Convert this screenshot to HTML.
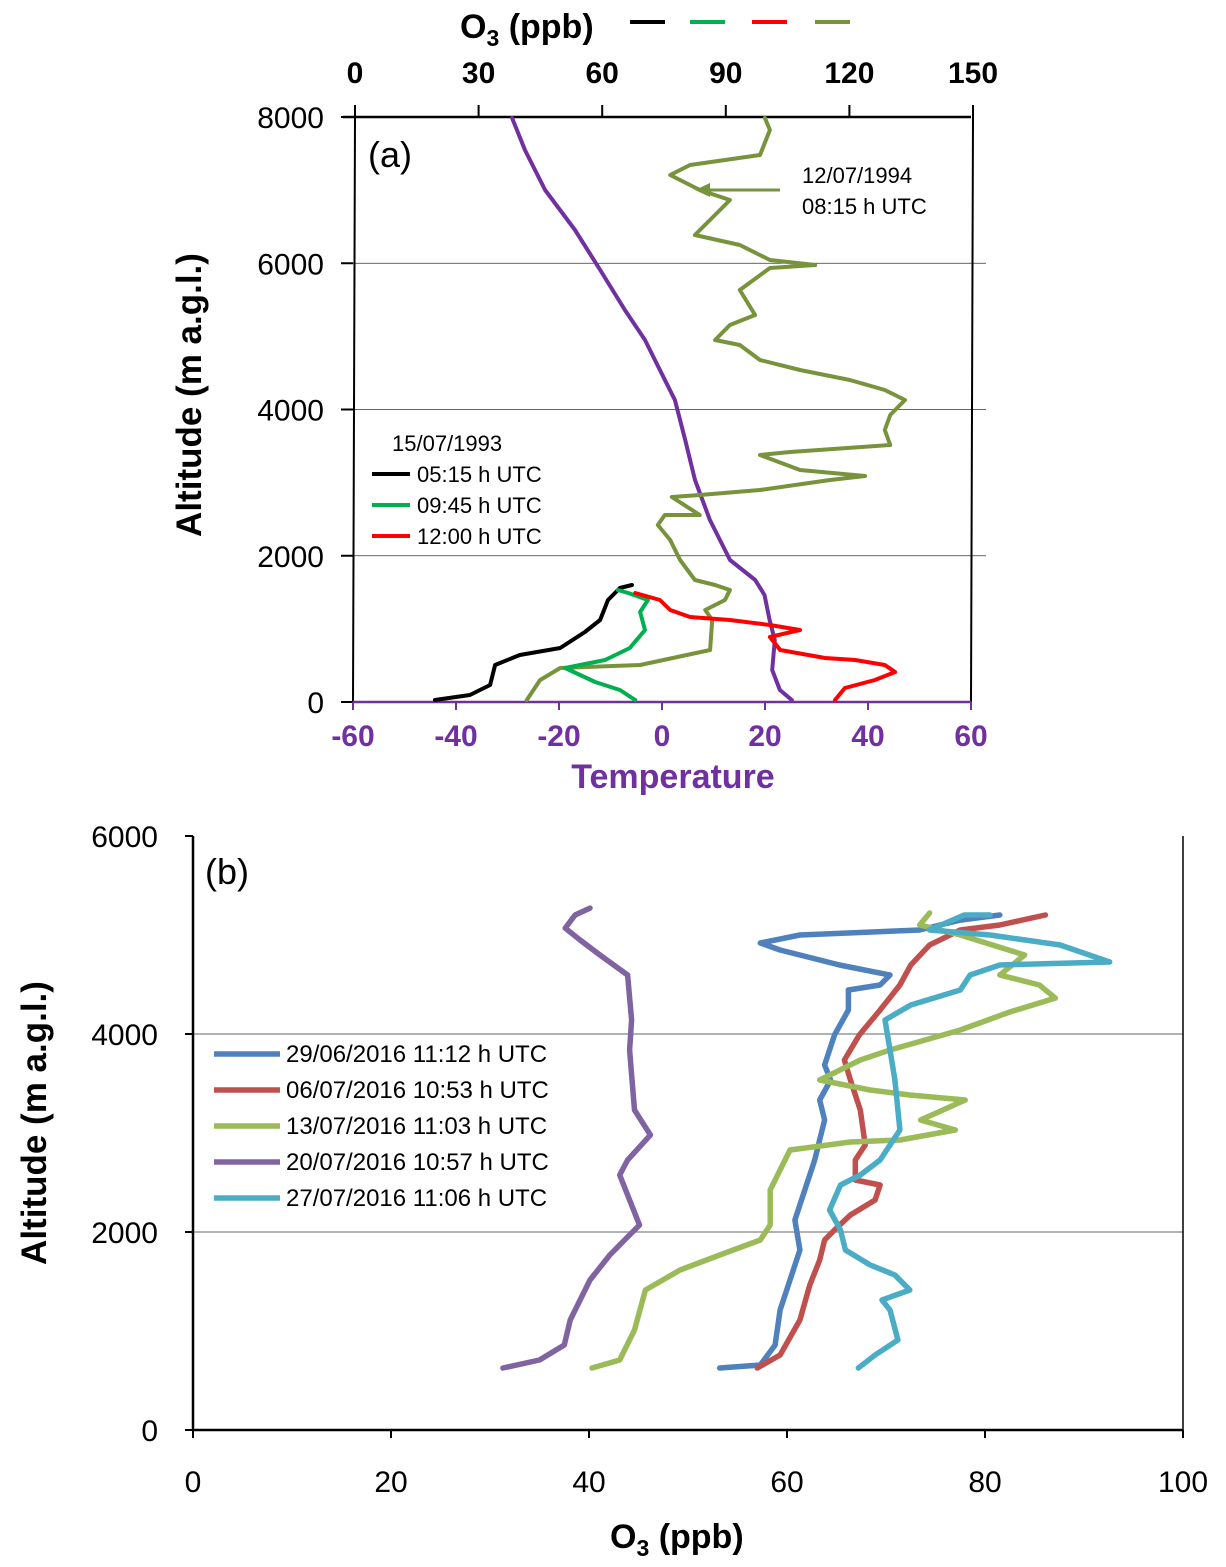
<!DOCTYPE html>
<html><head><meta charset="utf-8"><style>
body{margin:0;background:#fff}
svg text{font-family:"Liberation Sans",sans-serif}
</style></head><body>
<svg id="c" width="1226" height="1562" xmlns="http://www.w3.org/2000/svg">
<g id="a"></g>
<g id="b"></g>
</svg>
<script>
// ---- Panel (a) data ----
const aAltTicks=[0,2000,4000,6000,8000];
const aO3Ticks=[0,30,60,90,120,150];
const aTempTicks=[-60,-40,-20,0,20,40,60];
const olive1994O3=[41.7,44.9,49.8,69.2,86.2,86.7,85.0,89.8,91.0,87.4,82.5,78.9,76.5,73.5,75.2,83.7,76.9,83.7,98.3,115.3,123.8,108.0,98.3,105.6,129.9,128.6,129.9,133.5,128.6,120.1,108.0,98.3,93.4,87.4,91.0,97.1,93.4,100.7,111.7,100.7,93.4,82.5,88.6,91.0,83.7,76.5,81.3,98.3,100.7,99.5];
const olive1994Alt=[27,300,465,506,711,1121,1258,1395,1532,1600,1668,1942,2215,2420,2557,2557,2803,2831,2899,3036,3091,3173,3378,3419,3515,3720,3925,4130,4267,4403,4540,4677,4882,4950,5155,5292,5634,5935,5976,6044,6249,6386,6728,6865,7002,7207,7343,7480,7822,7986];
const black0515O3=[19.4,27.9,32.8,34.0,40.0,49.8,55.8,59.5,61.4,64.3,67.2];
const black0515Alt=[27,96,232,506,643,738,957,1121,1395,1559,1600];
const green0945O3=[68.0,64.3,58.3,51.0,60.7,66.7,70.4,69.2,71.1,66.3,63.8];
const green0945Alt=[27,164,273,465,574,738,985,1231,1395,1491,1532];
const red1200O3=[116.5,118.9,126.2,131.1,128.6,121.4,114.1,103.2,100.7,108.0,100.7,91.0,81.3,76.5,74.0,68.0];
const red1200Alt=[27,191,301,410,506,574,602,711,889,985,1053,1121,1162,1258,1395,1491];
const tempVals=[25.2,22.9,21.4,21.9,20.9,19.9,18.1,13.2,9.3,6.4,4.5,2.5,-0.4,-3.3,-7.2,-12.0,-16.9,-22.7,-26.6,-29.1];
const tempAlt=[27,164,438,848,1121,1463,1668,1942,2489,3036,3583,4130,4540,4950,5360,5908,6455,7002,7548,7986];
// ---- Panel (b) data ----
const bAltTicks=[0,2000,4000,6000];
const bO3Ticks=[0,20,40,60,80,100];
const b0629O3=[53.2,57.3,58.8,59.3,60.3,61.3,60.8,61.8,62.8,63.8,63.3,64.4,63.8,64.8,66.2,66.2,69.4,70.4,65.3,59.3,57.3,61.3,73.4,77.5,81.5];
const b0629Alt=[626,657,859,1212,1515,1818,2121,2424,2727,3131,3333,3535,3687,3990,4242,4444,4495,4596,4697,4848,4919,5000,5050,5151,5202];
const b0706O3=[57.0,59.3,61.3,62.3,63.3,63.8,64.8,66.4,68.9,69.4,66.9,66.9,67.9,67.4,66.4,65.8,67.3,69.4,71.4,72.5,74.4,77.5,81.5,86.1];
const b0706Alt=[626,758,1111,1465,1717,1919,2020,2172,2323,2475,2525,2727,2879,3232,3535,3737,3990,4242,4495,4697,4899,5050,5101,5202];
const b0713O3=[40.3,43.1,44.6,45.7,49.2,53.2,57.3,58.3,58.3,59.8,60.3,66.4,71.4,77.0,73.5,78.0,72.4,68.4,63.3,67.4,70.4,77.5,82.5,87.1,85.5,81.5,84.0,77.5,73.4,74.4];
const b0713Alt=[626,707,1010,1414,1616,1768,1919,2071,2424,2727,2828,2909,2929,3030,3131,3333,3384,3434,3535,3737,3838,4040,4222,4363,4495,4596,4798,5000,5101,5222];
const b0720O3=[31.3,35.0,37.5,38.1,39.1,40.1,42.1,43.6,45.1,43.1,43.9,46.2,44.6,44.1,44.3,43.9,41.1,39.1,37.6,38.6,40.1];
const b0720Alt=[626,707,859,1111,1313,1515,1768,1919,2071,2576,2727,2980,3232,3838,4141,4596,4798,4949,5070,5202,5272];
const b0727O3=[67.2,68.9,71.2,70.4,69.6,72.4,70.9,68.4,65.9,65.4,64.3,65.4,67.4,69.4,71.4,70.9,70.4,69.9,72.5,77.5,78.5,81.5,92.6,87.6,80.5,74.4,77.9,80.5];
const b0727Alt=[626,758,909,1212,1313,1414,1566,1667,1818,2020,2222,2475,2576,2727,3030,3535,3838,4141,4293,4444,4596,4697,4727,4899,5000,5050,5202,5202];
const bLegendLabels=["29/06/2016 11:12 h UTC","06/07/2016 10:53 h UTC","13/07/2016 11:03 h UTC","20/07/2016 10:57 h UTC","27/07/2016 11:06 h UTC"];

const NS="http://www.w3.org/2000/svg";
function mk(parent,tag,attrs,text){const e=document.createElementNS(NS,tag);for(const k in attrs)e.setAttribute(k,attrs[k]);if(text!==undefined)e.textContent=text;parent.appendChild(e);return e;}
function poly(parent,xs,ys,fx,fy,color,w,name){
  const p=xs.map((v,i)=>fx(v).toFixed(1)+","+fy(ys[i]).toFixed(1)).join(" ");
  const e=mk(parent,"polyline",{points:p,fill:"none",stroke:color,"stroke-width":w,"stroke-linejoin":"round","stroke-linecap":"round"});
  
  
  return e;
}
// Panel a axes
const A=document.getElementById('a');
const aL=353,aR=971,aT=117,aB=702;
const ax=v=>355+(v/150)*(973-355);
const at=v=>aL+(v+60)/120*(aR-aL);
const ay=v=>aB-v/8000*(aB-aT);
aAltTicks.forEach(v=>{
  if(v>0&&v<8000){const g=mk(A,"line",{x1:aL,x2:986,y1:ay(v),y2:ay(v),stroke:"#333","stroke-width":0.8});}
  mk(A,"line",{x1:aL-12,x2:aL,y1:ay(v),y2:ay(v),stroke:"#000","stroke-width":2});
  const t=mk(A,"text",{x:324,y:ay(v)+11,"text-anchor":"end","font-size":30},String(v));
  
});
mk(A,"line",{x1:aL,x2:355,y1:aB,y2:aT,stroke:"#000","stroke-width":2});
mk(A,"line",{x1:aR,x2:973,y1:aB,y2:aT,stroke:"#000","stroke-width":2});
mk(A,"line",{x1:aL-10,x2:aR,y1:aT,y2:aT,stroke:"#000","stroke-width":2.5});
aO3Ticks.forEach(v=>{
  mk(A,"line",{x1:ax(v),x2:ax(v),y1:aT,y2:aT-12,stroke:"#000","stroke-width":2});
  const t=mk(A,"text",{x:ax(v),y:83,"text-anchor":"middle","font-size":30,"font-weight":"bold"},String(v));
  
});
mk(A,"line",{x1:aL,x2:aR,y1:aB,y2:aB,stroke:"#7030a0","stroke-width":2.5});
aTempTicks.forEach(v=>{
  mk(A,"line",{x1:at(v),x2:at(v),y1:aB,y2:aB+8,stroke:"#7030a0","stroke-width":2});
  const t=mk(A,"text",{x:at(v),y:746,"text-anchor":"middle","font-size":30,"font-weight":"bold",fill:"#7030a0"},String(v));
  
});
let t=mk(A,"text",{x:673,y:788,"text-anchor":"middle","font-size":34,"font-weight":"bold",fill:"#7030a0"},"Temperature");

t=mk(A,"text",{x:0,y:0,transform:"translate(201,395) rotate(-90)","text-anchor":"middle","font-size":35,"font-weight":"bold"},"Altitude (m a.g.l.)");

t=mk(A,"text",{x:460,y:38,"font-size":34,"font-weight":"bold"});
t.innerHTML='O<tspan dy="8" font-size="23">3</tspan><tspan dy="-8"> (ppb)</tspan>';

[["#000",630,"legend-black-dash"],["#00b050",690,"legend-green-dash"],["#ff0000",752,"legend-red-dash"],["#77933c",815,"legend-olive-dash"]].forEach(d=>{
  const l=mk(A,"line",{x1:d[1],x2:d[1]+35,y1:22,y2:22,stroke:d[0],"stroke-width":4});
  
});
t=mk(A,"text",{x:368,y:167,"font-size":36},"(a)");

poly(A,tempVals,tempAlt,at,ay,"#7030a0",4,"temperature-profile");
poly(A,olive1994O3,olive1994Alt,ax,ay,"#77933c",4,"o3-1994-profile");
poly(A,black0515O3,black0515Alt,ax,ay,"#000",4,"o3-0515-profile");
poly(A,green0945O3,green0945Alt,ax,ay,"#00b050",4,"o3-0945-profile");
poly(A,red1200O3,red1200Alt,ax,ay,"#ff0000",4,"o3-1200-profile");
// annotation arrow
mk(A,"line",{x1:780,x2:705,y1:190,y2:190,stroke:"#77933c","stroke-width":3});
mk(A,"polygon",{points:"695,190 710,183 710,197",fill:"#77933c"});
t=mk(A,"text",{x:802,y:183,"font-size":22},"12/07/1994");
t=mk(A,"text",{x:802,y:214,"font-size":22},"08:15 h UTC");
t=mk(A,"text",{x:392,y:451,"font-size":22},"15/07/1993");
[["#000","05:15 h UTC",481],["#00b050","09:45 h UTC",512],["#ff0000","12:00 h UTC",543]].forEach(d=>{
  const g=mk(A,"g",{});
  mk(g,"line",{x1:372,x2:410,y1:d[2]-7,y2:d[2]-7,stroke:d[0],"stroke-width":4});
  mk(g,"text",{x:417,y:d[2]+1,"font-size":22},d[1]);
});
// Panel b
const B=document.getElementById('b');
const bL=193,bR=1183,bT=836,bB=1430;
const bx=v=>bL+v/100*(bR-bL);
const by=v=>bB-v/6000*(bB-bT);
bAltTicks.forEach(v=>{
  if(v>0&&v<6000){const g=mk(B,"line",{x1:bL,x2:bR,y1:by(v),y2:by(v),stroke:"#999","stroke-width":1.5});}
  mk(B,"line",{x1:bL-8,x2:bL,y1:by(v),y2:by(v),stroke:"#000","stroke-width":2});
  const t2=mk(B,"text",{x:158,y:by(v)+11,"text-anchor":"end","font-size":30},String(v));
  
});
bO3Ticks.forEach(v=>{
  mk(B,"line",{x1:bx(v),x2:bx(v),y1:bB,y2:bB+8,stroke:"#000","stroke-width":2});
  const t2=mk(B,"text",{x:bx(v),y:1492,"text-anchor":"middle","font-size":30},String(v));
  
});
mk(B,"line",{x1:bL,x2:bL,y1:bT,y2:bB,stroke:"#000","stroke-width":2.5});
mk(B,"line",{x1:bL,x2:bR,y1:bB,y2:bB,stroke:"#000","stroke-width":2.5});
mk(B,"line",{x1:bR,x2:bR,y1:bT,y2:bB,stroke:"#000","stroke-width":1.5});
t=mk(B,"text",{x:610,y:1548,"font-size":34,"font-weight":"bold"});
t.innerHTML='O<tspan dy="8" font-size="23">3</tspan><tspan dy="-8"> (ppb)</tspan>';

t=mk(B,"text",{x:0,y:0,transform:"translate(46,1123) rotate(-90)","text-anchor":"middle","font-size":35,"font-weight":"bold"},"Altitude (m a.g.l.)");

t=mk(B,"text",{x:205,y:884,"font-size":36},"(b)");

const bColors=["#4f81bd","#c0504d","#9bbb59","#8064a2","#4bacc6"];
const bX=[b0629O3,b0706O3,b0713O3,b0720O3,b0727O3];
const bY=[b0629Alt,b0706Alt,b0713Alt,b0720Alt,b0727Alt];
bX.forEach((xs,i)=>poly(B,xs,bY[i],bx,by,bColors[i],5.5,"o3-profile-"+i));
bLegendLabels.forEach((lab,i)=>{
  const g=mk(B,"g",{});
  const y=1054+i*36;
  mk(g,"line",{x1:214,x2:280,y1:y,y2:y,stroke:bColors[i],"stroke-width":5.5});
  mk(g,"text",{x:286,y:y+8,"font-size":24},lab);
});
</script>
</body></html>
